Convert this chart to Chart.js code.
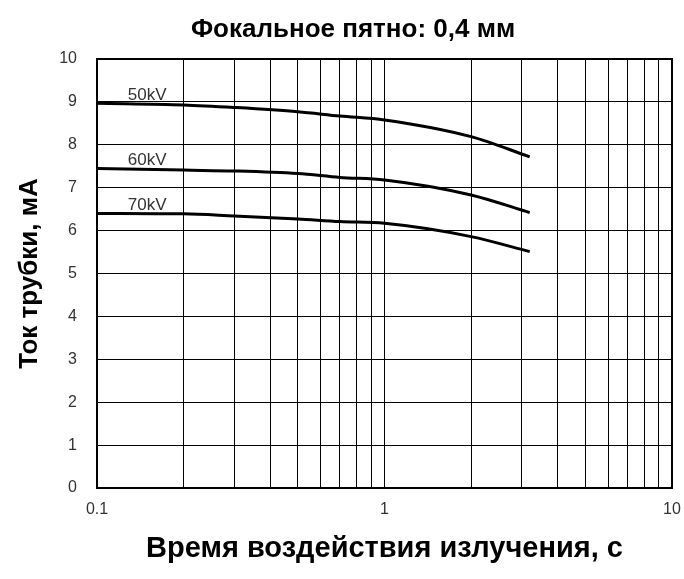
<!DOCTYPE html>
<html>
<head>
  <meta charset="UTF-8" />
  <title>Фокальное пятно: 0,4 мм</title>
  <script src="https://cdn.jsdelivr.net/npm/chart.js"></script>
  <style>
    html, body {
      margin: 0;
      padding: 0;
      background: #fff;
    }

    #wrap {
      width: 684px;
      height: 579px;
    }
  </style>
</head>
<body>
  <div id="wrap">
    <canvas id="chart"></canvas>
  </div>

  <script>
    // exposure time, s
    const times = [0.1, 0.2, 0.3, 0.5, 0.7, 1, 2, 3.2];
    // tube current, mA
    const kv50 = [8.97, 8.93, 8.87, 8.77, 8.67, 8.58, 8.19, 7.72];
    const kv60 = [7.45, 7.41, 7.39, 7.33, 7.24, 7.18, 6.83, 6.42];
    const kv70 = [6.40, 6.39, 6.34, 6.27, 6.21, 6.17, 5.86, 5.51];
    const seriesNames = ['50kV', '60kV', '70kV'];

    const xTicks = [0.1, 0.2, 0.3, 0.4, 0.5, 0.6, 0.7, 0.8, 0.9,
                    1, 2, 3, 4, 5, 6, 7, 8, 9, 10];
    const xLabels = [0.1, 1, 10];
    const chartTitle = 'Фокальное пятно: 0,4 мм';
    const xTitle = 'Время воздействия излучения, с';
    const yTitle = 'Ток трубки, мА';

    const FONT = '"Liberation Sans", Arial, sans-serif';

    function toPoints(values) {
      return values.map((v, i) => ({ x: times[i], y: v }));
    }

    // frame, title and curve labels
    const decor = {
      id: 'decor',
      afterDraw(chart) {
        const ctx = chart.ctx;
        const a = chart.chartArea;
        const xs = chart.scales.x;
        const ys = chart.scales.y;
        ctx.save();
        ctx.strokeStyle = '#000';
        ctx.lineWidth = 2;
        ctx.strokeRect(a.left, a.top, a.right - a.left, a.bottom - a.top);

        ctx.fillStyle = '#000';
        ctx.font = 'bold 26px ' + FONT;
        ctx.textAlign = 'center';
        ctx.textBaseline = 'middle';
        ctx.fillText(chartTitle, 353, 30);

        ctx.fillStyle = '#333';
        ctx.font = '17px ' + FONT;
        ctx.textAlign = 'left';
        ctx.textBaseline = 'alphabetic';
        chart.data.datasets.forEach(ds => {
          const px = xs.getPixelForValue(0.128);
          const py = ys.getPixelForValue(ds.data[0].y);
          ctx.fillText(ds.label, px, py - 3);
        });
        ctx.restore();
      }
    };

    const ctx = document.getElementById('chart').getContext('2d');
    new Chart(ctx, {
      type: 'line',
      data: {
        datasets: [kv50, kv60, kv70].map((vals, i) => ({
          label: seriesNames[i],
          data: toPoints(vals),
          borderColor: '#000',
          borderWidth: 3,
          pointRadius: 0,
          fill: false,
          cubicInterpolationMode: 'monotone'
        }))
      },
      options: {
        responsive: true,
        maintainAspectRatio: false,
        animation: false,
        layout: {
          padding: { top: 59, right: 12, bottom: 0, left: 0 }
        },
        plugins: {
          legend: { display: false },
          tooltip: { enabled: false }
        },
        scales: {
          x: {
            type: 'logarithmic',
            min: 0.1,
            max: 10,
            afterBuildTicks(scale) {
              scale.ticks = xTicks.map(v => ({ value: v }));
            },
            afterFit(scale) {
              scale.height = 91;
              scale.paddingLeft = 0;
              scale.paddingRight = 0;
            },
            ticks: {
              autoSkip: false,
              maxRotation: 0,
              padding: 12,
              color: '#333',
              font: { family: FONT, size: 16 },
              callback: v => (xLabels.includes(v) ? String(v) : '')
            },
            grid: {
              color: '#000',
              lineWidth: 1,
              drawTicks: false
            },
            border: { color: '#000', width: 2 },
            title: {
              display: true,
              text: xTitle,
              color: '#000',
              font: { family: FONT, size: 29, weight: 'bold' },
              padding: { top: 13, bottom: 13 }
            }
          },
          y: {
            type: 'linear',
            min: 0,
            max: 10,
            afterFit(scale) {
              scale.width = 97;
            },
            ticks: {
              stepSize: 1,
              padding: 20,
              color: '#333',
              font: { family: FONT, size: 16 }
            },
            grid: {
              color: '#000',
              lineWidth: 1,
              drawTicks: false
            },
            border: { color: '#000', width: 2 },
            title: {
              display: true,
              text: yTitle,
              color: '#000',
              font: { family: FONT, size: 26, weight: 'bold' },
              padding: { top: 14, bottom: 10 }
            }
          }
        }
      },
      plugins: [decor]
    });
  </script>
</body>
</html>
